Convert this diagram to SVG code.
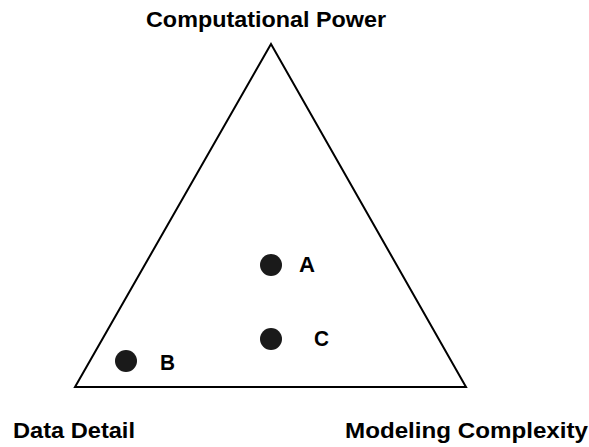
<svg xmlns="http://www.w3.org/2000/svg" width="589" height="447" viewBox="0 0 589 447">
<style>
.lbl{font-family:"Liberation Sans",Arial,sans-serif;font-weight:bold;font-size:22px;fill:#000}
.dot{fill:#1a1a1a}
</style>
<rect width="589" height="447" fill="#fff"/>
<g id="triangle">
<polygon points="271,44 75,387 466,387" fill="none" stroke="#000" stroke-width="2" stroke-linejoin="miter"/>
</g>
<g id="axis-top"><text class="lbl" x="146" y="27" textLength="240" lengthAdjust="spacingAndGlyphs">Computational Power</text></g>
<g id="axis-left"><text class="lbl" x="13" y="438" textLength="122" lengthAdjust="spacingAndGlyphs">Data Detail</text></g>
<g id="axis-right"><text class="lbl" x="345" y="438" textLength="243" lengthAdjust="spacingAndGlyphs">Modeling Complexity</text></g>
<g id="A"><circle class="dot" cx="271" cy="265" r="11"/><text class="lbl" x="299" y="272" textLength="16" lengthAdjust="spacingAndGlyphs">A</text></g>
<g id="B"><circle class="dot" cx="126" cy="361" r="11"/><text class="lbl" x="160" y="370" textLength="15" lengthAdjust="spacingAndGlyphs">B</text></g>
<g id="C"><circle class="dot" cx="271" cy="339" r="11"/><text class="lbl" x="314" y="346" textLength="15" lengthAdjust="spacingAndGlyphs">C</text></g>
</svg>
